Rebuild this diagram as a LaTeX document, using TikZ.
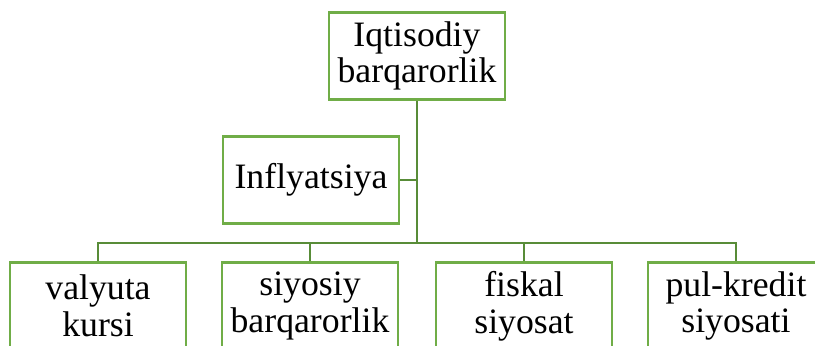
\documentclass[tikz,border=0pt]{standalone}
\usepackage{fontspec}
\setmainfont{Liberation Serif}
\usepackage{tikz}
\usetikzlibrary{positioning}
\usetikzlibrary{calc}
\definecolor{boxgreen}{RGB}{112,173,71}
\definecolor{linegreen}{RGB}{88,140,56}
\tikzset{
  % Common styles for the chart
  line/.style={draw=linegreen, line width=1.9pt},
  box/.style={draw=boxgreen, line width=1.9pt, rectangle, fill=white,
    minimum width=132pt, minimum height=65.5pt, inner sep=0pt, align=center,
    font=\fontsize{26.8pt}{27.5pt}\selectfont}
}

\begin{document}
\begin{tikzpicture}[x=0.75pt,y=-0.75pt]
        \useasboundingbox (0,0) rectangle (815,346);
        % Define nodes
        \node[box] (econ) at (417,56) {Iqtisodiy\\barqarorlik};
        \node[box] (infl) at (311,180) {Inflyatsiya};
        \node[box] (rate) at (98,306) {valyuta\\kursi};
        \node[box] (polit) at (310,306) {siyosiy\\barqarorlik};
        \node[box] (fiscal) at (524,306) {fiskal\\siyosat};
        \node[box] (money) at (736,306) {pul-kredit\\siyosati};
        \coordinate (hub) at (417,243);

        % Define connections
        \path [line] (econ) -- (hub);
        \path [line] (infl) -- (infl -| hub);
        \path [line] (rate.north) |- (money.north |- hub) -- (money.north);
        \path [line] (polit.north) -- (polit.north |- hub);
        \path [line] (fiscal.north) -- (fiscal.north |- hub);
    \end{tikzpicture}
\end{document}
